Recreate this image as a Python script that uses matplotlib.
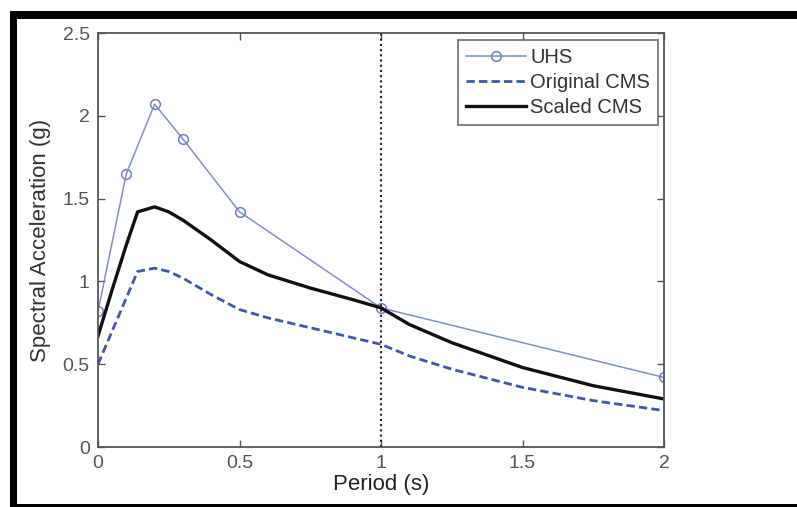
import matplotlib
matplotlib.use('Agg')
import matplotlib.pyplot as plt
from matplotlib.patches import Rectangle

plt.rcParams['font.family'] = ['Liberation Sans', 'DejaVu Sans']

# UHS-Punkte
uhs_period = [0.0, 0.1, 0.2, 0.3, 0.5, 1.0, 2.0]
uhs_sa = [0.82, 1.65, 2.07, 1.86, 1.42, 0.84, 0.42]

# CMS-Kurven
cms_period = [0.0, 0.05, 0.1, 0.14, 0.2, 0.25, 0.3, 0.4, 0.5, 0.6, 0.75, 0.9, 1.0,
              1.1, 1.25, 1.5, 1.75, 2.0]
orig_cms = [0.50, 0.70, 0.90, 1.06, 1.08, 1.06, 1.02, 0.92, 0.83, 0.78, 0.72, 0.66, 0.62,
            0.55, 0.47, 0.36, 0.28, 0.22]
scaled_cms = [0.67, 0.95, 1.22, 1.42, 1.45, 1.42, 1.37, 1.25, 1.12, 1.04, 0.96, 0.89, 0.84,
              0.74, 0.63, 0.48, 0.37, 0.29]

x_ticks = [0, 0.5, 1, 1.5, 2]
x_labels = ['0', '0.5', '1', '1.5', '2']
y_ticks = [0, 0.5, 1, 1.5, 2, 2.5]
y_labels = ['0', '0.5', '1', '1.5', '2', '2.5']

W, H = 797, 507
fig = plt.figure(figsize=(W / 100, H / 100), dpi=100)
ax = fig.add_axes([98 / W, (H - 447) / H, (664 - 98) / W, (447 - 33) / H])

grey = '#555555'

# Plot
ax.plot(uhs_period, uhs_sa, color='#8090c8', lw=1.1, marker='o', ms=7,
        mfc='none', mec='#7080c0', mew=1.1, label='UHS')
ax.plot(cms_period, orig_cms, color='#4058a8', lw=2.0, ls=(0, (3, 1.5)), label='Original CMS')
ax.plot(cms_period, scaled_cms, color='#111111', lw=2.4, label='Scaled CMS')
ax.axvline(1.0, color='#222222', lw=1.5, ls=(0, (1, 1.5)))

ax.set_xlim(0, 2)
ax.set_ylim(0, 2.5)
ax.set_xticks(x_ticks)
ax.set_xticklabels(x_labels)
ax.set_yticks(y_ticks)
ax.set_yticklabels(y_labels)
ax.tick_params(direction='in', length=5, width=1, color=grey, labelcolor=grey,
               labelsize=14, top=True, right=True, pad=6)
for s in ax.spines.values():
    s.set_color(grey)
    s.set_linewidth(1.3)

ax.set_xlabel('Period (s)', fontsize=16, color='#222222', labelpad=1)
ax.set_ylabel('Spectral Acceleration (g)', fontsize=16, color='#333333', labelpad=8)

leg = ax.legend(loc='upper right', bbox_to_anchor=(0.99, 0.983), fontsize=14.5,
                frameon=True, fancybox=False, edgecolor=grey, handlelength=3.0,
                handletextpad=0.2, labelspacing=0.3, borderpad=0.4, borderaxespad=0)
leg.get_frame().set_linewidth(1.3)
for t in leg.get_texts():
    t.set_color('#333333')

# schwarzer Rahmen um das Bild
fig.add_artist(Rectangle((10 / W, (H - 19) / H), 1, 8 / H, transform=fig.transFigure,
                         color='black', lw=0))
fig.add_artist(Rectangle((10 / W, 0), 7 / W, (H - 11) / H, transform=fig.transFigure,
                         color='black', lw=0))
fig.add_artist(Rectangle((10 / W, 0), 1, 3 / H, transform=fig.transFigure,
                         color='black', lw=0))

fig.savefig('out.png', dpi=100)
